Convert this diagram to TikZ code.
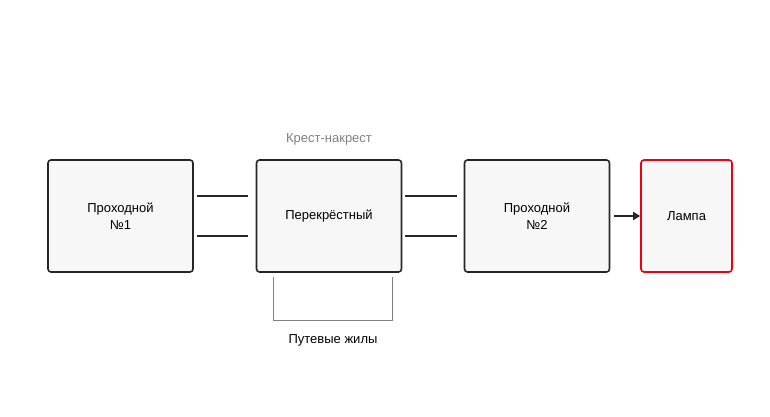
\documentclass[tikz,border=0pt]{standalone}
\usepackage{fontspec}
\setmainfont{Liberation Sans}
\usetikzlibrary{arrows.meta}
\begin{document}
\begin{tikzpicture}[x=1pt,y=-1pt,
  box/.style={draw=black!85,line width=1.6pt,rounded corners=3pt,fill=black!3,minimum width=145pt,minimum height=112pt,align=center,font=\fontsize{13}{17}\selectfont},
  wire/.style={line width=2pt,black!85},
  lbl/.style={font=\fontsize{13}{15}\selectfont}]
\useasboundingbox (0,0) rectangle (770,417);
\node[box] (p1) at (120.5,216) {Проходной\\№1};
\node[box] (x) at (329,216) {Перекрёстный};
\node[box] (p2) at (537,216) {Проходной\\№2};
\node[box,draw=red!75!purple,minimum width=91pt] (l) at (686.5,216) {Лампа};
\coordinate (a1) at (197,196); \coordinate (a2) at (248,196);
\coordinate (b1) at (197,236); \coordinate (b2) at (248,236);
\coordinate (c1) at (405,196); \coordinate (c2) at (457,196);
\coordinate (d1) at (405,236); \coordinate (d2) at (457,236);
\draw[wire] (a1)--(a2); \draw[wire] (b1)--(b2);
\draw[wire] (c1)--(c2); \draw[wire] (d1)--(d2);
\draw[wire,-{Triangle[length=7pt,width=8pt]}] (p2.east)+(4,0) -- (l.west);
\coordinate (k1) at (273,277); \coordinate (k2) at (392,277);
\draw[black!50,line width=1pt] (k1) -- (273,320) -- (392,320) -- (k2);
\node[lbl] (pj) at (333,340) {Путевые жилы};
\node[lbl,text=black!50] (kn) at (329,139) {Крест-накрест};
\end{tikzpicture}
\end{document}
